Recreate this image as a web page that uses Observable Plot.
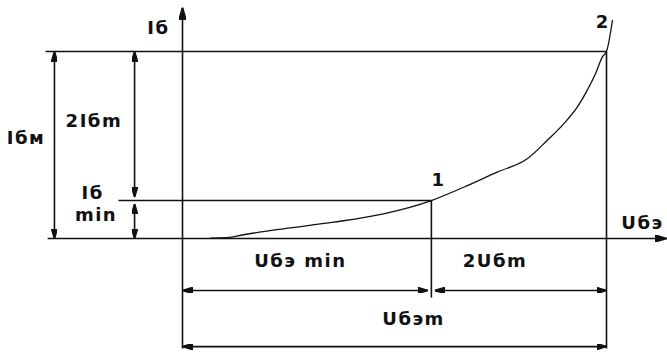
<!DOCTYPE html>
<html>
<head>
<meta charset="utf-8">
<script src="https://cdn.jsdelivr.net/npm/d3@7"></script>
<script src="https://cdn.jsdelivr.net/npm/@observablehq/plot@0.6"></script>
<style>
  html, body { margin: 0; padding: 0; background: #fff; }
  #chart svg { display: block; }
</style>
</head>
<body>
<div id="chart"></div>
<script>
// ---- data (diagram units: U normalised to Uбэ max = 1, I normalised to Iб max = 1) ----
const curveU = [0.066, 0.105, 0.144, 0.238, 0.356, 0.474, 0.587, 0.663, 0.742, 0.813, 0.860, 0.899, 0.931, 0.954, 0.974, 0.990, 1.000, 1.014];
const curveI = [0.002, 0.004, 0.020, 0.052, 0.087, 0.132, 0.203, 0.274, 0.355, 0.426, 0.524, 0.613, 0.702, 0.791, 0.881, 0.970, 1.000, 1.166];

const U1 = 0.587;   // point 1 voltage
const U2 = 1.0;     // point 2 voltage
const I1 = 0.203;   // Iб min
const I2 = 1.0;     // Iб max

const labelText = ["Iб", "Iбм", "2Iбm", "Iб", "min", "1", "2", "Uбэ", "Uбэ min", "2Uбm", "Uбэm"];
const labelU    = [-0.057, -0.369, -0.209, -0.212, -0.204, 0.604, 0.991, 1.085, 0.278, 0.737, 0.545];
const labelI    = [1.096, 0.508, 0.594, 0.209, 0.096, 0.283, 1.123, 0.053, -0.150, -0.150, -0.460];

// ---- derived tables ----
const curve = curveU.map((u, k) => ({u, i: curveI[k]}));
const labels = labelText.map((t, k) => ({t, u: labelU[k], i: labelI[k]}));

const gU = 0.008, gI = 0.018;
const plain = [
  {x1: -0.323, y1: I2, x2: U2, y2: I2},
  {x1: -0.151, y1: I1, x2: U1, y2: I1},
  {x1: U1, y1: I1, x2: U1, y2: -0.316},
  {x1: U2, y1: I2, x2: U2, y2: -0.588}
];
const axes = [
  {x1: -0.318, y1: 0, x2: 1.142, y2: 0},
  {x1: 0, y1: -0.588, x2: 0, y2: 1.235}
];
const dims = [
  {x1: -0.302, y1: 0, x2: -0.302, y2: I2},
  {x1: -0.113, y1: I1 + gI, x2: -0.113, y2: I2},
  {x1: -0.113, y1: 0, x2: -0.113, y2: I1 - gI},
  {x1: 0, y1: -0.278, x2: U1 - gU, y2: -0.278},
  {x1: U1 + gU, y1: -0.278, x2: U2, y2: -0.278},
  {x1: 0, y1: -0.578, x2: U2, y2: -0.578}
];

function makeArrow(len, half) {
  return function (color, context) {
    const doc = (context && context.document) || document;
    const ns = "http://www.w3.org/2000/svg";
    const m = doc.createElementNS(ns, "marker");
    m.setAttribute("viewBox", `${-len} ${-half} ${len} ${2 * half}`);
    m.setAttribute("markerWidth", len);
    m.setAttribute("markerHeight", 2 * half);
    m.setAttribute("markerUnits", "userSpaceOnUse");
    m.setAttribute("refX", 0);
    m.setAttribute("refY", 0);
    m.setAttribute("orient", "auto-start-reverse");
    m.setAttribute("fill", color);
    const p = doc.createElementNS(ns, "path");
    p.setAttribute("d", `M${-len},${-half}L0,0L${-len},${half}Z`);
    m.appendChild(p);
    return m;
  };
}
const dimArrow = makeArrow(10, 3);
const axisArrow = makeArrow(12, 3.5);

const ink = "#111";
const chart = Plot.plot({
  width: 667,
  height: 352,
  margin: 0,
  x: {domain: [-182 / 424, 485 / 424], axis: null},
  y: {domain: [-114 / 187, 238 / 187], axis: null},
  style: {background: "#fff", letterSpacing: "1.5px"},
  marks: [
    Plot.link(plain, {x1: "x1", y1: "y1", x2: "x2", y2: "y2", stroke: ink, strokeWidth: 1.6}),
    Plot.link(axes, {x1: "x1", y1: "y1", x2: "x2", y2: "y2", stroke: ink, strokeWidth: 1.6, markerEnd: axisArrow}),
    Plot.link(dims, {x1: "x1", y1: "y1", x2: "x2", y2: "y2", stroke: ink, strokeWidth: 1.6, markerStart: dimArrow, markerEnd: dimArrow}),
    Plot.line(curve, {x: "u", y: "i", curve: "monotone-x", stroke: ink, strokeWidth: 1.3}),
    Plot.text(labels, {x: "u", y: "i", text: "t", textAnchor: "middle", lineAnchor: "bottom",
      fontFamily: "DejaVu Sans", fontWeight: "bold", fontSize: 18, fill: ink})
  ]
});
document.getElementById("chart").appendChild(chart);
</script>
</body>
</html>
